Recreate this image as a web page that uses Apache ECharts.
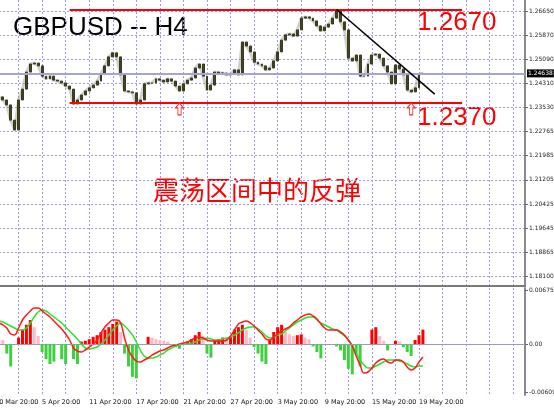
<!DOCTYPE html>
<html>
<head>
<meta charset="utf-8">
<title>GBPUSD H4</title>
<script src="https://cdn.jsdelivr.net/npm/echarts@6/dist/echarts.min.js"></script>
<style>
html, body { margin: 0; padding: 0; background: #fff; }
#main { width: 554px; height: 408px; }
</style>
</head>
<body>
<div id="main"></div>
<script type="text/javascript">
// one point = two H4 bars
var tickLabels = ['30 Mar 20:00', '5 Apr 20:00', '11 Apr 20:00', '17 Apr 20:00', '21 Apr 20:00',
    '27 Apr 20:00', '3 May 20:00', '9 May 20:00', '15 May 20:00', '19 May 20:00'];
var barCount = 136;

var closes = [
    1.2394, 1.2388, 1.2378, 1.2362, 1.2313, 1.2281, 1.2378, 1.2413, 1.2468, 1.2494,
    1.2497, 1.2488, 1.2455, 1.2446, 1.2455, 1.2442, 1.2439, 1.2433, 1.2423, 1.2413,
    1.2365, 1.2378, 1.2394, 1.2407, 1.2417, 1.2426, 1.2439, 1.2462, 1.2488, 1.2517,
    1.2530, 1.2517, 1.2459, 1.2407, 1.2404, 1.2401, 1.2365, 1.2378, 1.2430, 1.2433,
    1.2433, 1.2446, 1.2442, 1.2436, 1.2446, 1.2439, 1.2423, 1.2407, 1.2430, 1.2442,
    1.2449, 1.2481, 1.2494, 1.2455, 1.2410, 1.2426, 1.2468, 1.2465, 1.2465, 1.2459,
    1.2462, 1.2475, 1.2459, 1.2565, 1.2552, 1.2533, 1.2500, 1.2494, 1.2488, 1.2475,
    1.2481, 1.2504, 1.2533, 1.2571, 1.2588, 1.2591, 1.2584, 1.2604, 1.2642, 1.2646,
    1.2642, 1.2633, 1.2617, 1.2601, 1.2613, 1.2623, 1.2642, 1.2665, 1.2630, 1.2604,
    1.2513, 1.2504, 1.2523, 1.2455, 1.2455, 1.2494, 1.2523, 1.2526, 1.2513, 1.2488,
    1.2468, 1.2430, 1.2491, 1.2478, 1.2459, 1.2410, 1.2404, 1.2417, 1.2462, 1.2464
];

var macdRed = [
    0.00275, 0.00263, 0.00238, 0.0020, 0.00125, 0.00113, 0.0020, 0.0030, 0.00363, 0.00413,
    0.0045, 0.0045, 0.00413, 0.00375, 0.00338, 0.00288, 0.00238, 0.00188, 0.00125, 0.0005,
    -0.0005, -0.00088, -0.001, -0.00075, -0.00038, 0, 0.0005, 0.00138, 0.00213, 0.00263,
    0.003, 0.003, 0.00263, 0.00075, -0.00075, -0.00163, -0.00213, -0.00225, -0.002, -0.00175,
    -0.00138, -0.00113, -0.00088, -0.00075, -0.0005, -0.00025, -0.00013, 0, 0.00013, 0.00025,
    0.0005, 0.00075, 0.00088, 0.00075, 0.0005, 0.00038, 0.00038, 0.00038, 0.00038, 0.0005,
    0.001, 0.00175, 0.0025, 0.00275, 0.00288, 0.00263, 0.00225, 0.00175, 0.00125, 0.00063,
    0.0005, 0.00088, 0.00125, 0.00163, 0.00188, 0.00213, 0.00263, 0.003, 0.00338, 0.00363,
    0.00375, 0.0035, 0.00313, 0.0025, 0.002, 0.00175, 0.00175, 0.00175, 0.0015, 0.00113,
    0.0005, -0.00025, -0.0015, -0.00263, -0.00363, -0.0035, -0.003, -0.00238, -0.002, -0.00188,
    -0.00225, -0.00238, -0.002, -0.002, -0.00225, -0.00288, -0.00325, -0.003, -0.00225, -0.00163
];

var macdGreen = [
    0.003, 0.00288, 0.00275, 0.0025, 0.00225, 0.002, 0.00175, 0.00175, 0.002, 0.00263,
    0.00338, 0.004, 0.00425, 0.00413, 0.00375, 0.00338, 0.003, 0.00263, 0.00213, 0.00163,
    0.00113, 0.00063, 0, -0.0005, -0.00063, -0.0005, -0.00038, 0, 0.0005, 0.00113,
    0.00175, 0.00225, 0.00263, 0.00225, 0.00175, 0.00113, 0.00025, -0.00075, -0.0015, -0.00175,
    -0.00175, -0.00163, -0.00138, -0.00113, -0.00075, -0.0005, -0.00025, -0.00013, 0, 0,
    0.00013, 0.00025, 0.0005, 0.00063, 0.00075, 0.00063, 0.0005, 0.0005, 0.00063, 0.00075,
    0.00088, 0.00113, 0.00138, 0.00175, 0.002, 0.00213, 0.00213, 0.00188, 0.0015, 0.001,
    0.00075, 0.00088, 0.00113, 0.00125, 0.00163, 0.002, 0.00238, 0.00275, 0.003, 0.00325,
    0.00338, 0.00338, 0.003, 0.00263, 0.00238, 0.00213, 0.00188, 0.00175, 0.00138, 0.001,
    0.0005, -0.00025, -0.00113, -0.002, -0.00263, -0.003, -0.003, -0.00275, -0.0025, -0.00225,
    -0.002, -0.002, -0.002, -0.00213, -0.00225, -0.0025, -0.00275, -0.00288, -0.00275, -0.00275
];

var macdHist = [
    0.0007, 0.0006, 0.0005, -0.0012, -0.0028, -0.0001, 0.0008, 0.0018, 0.0024, 0.0030,
    0.0021, 0.0010, -0.0010, -0.0019, -0.0025, -0.0022, 0, -0.0019, -0.0025, 0,
    -0.0019, -0.0025, 0.0003, 0.0004, 0.0006, 0.0009, 0.0011, 0.0015, 0.0018, 0.0021,
    0.0025, 0.0028, 0.0015, -0.0012, -0.0028, -0.0041, -0.0043, 0, 0, 0.0009,
    0.0008, 0.0006, 0.0005, 0.0004, 0.0003, 0, -0.0004, -0.0006, 0, 0.0003,
    0.0006, 0.0011, 0.0015, 0.0010, -0.0012, -0.0017, 0.0004, 0.0006, 0.0008, 0.0006,
    0.0010, 0.0018, 0.0021, 0.0024, 0.0018, 0.0008, -0.0004, -0.0012, -0.0022, -0.0025,
    0.0005, 0.0015, 0.0021, 0.0024, 0.0015, 0.0012, 0.0010, 0.0011, 0.0012, 0.0008,
    0.0006, -0.0003, -0.0010, -0.0018, 0, 0, 0, -0.0003, -0.0008, -0.0020,
    -0.0031, -0.0038, -0.0012, -0.0028, 0, 0, 0.0018, 0.0021, 0.0010, 0.0004,
    -0.0008, 0, 0.0004, 0.0003, -0.0004, -0.0010, -0.0015, 0.0005, 0.0011, 0.0018
];

var priceTicks = [1.18100, 1.18865, 1.19645, 1.20425, 1.21205, 1.21985,
    1.22765, 1.23530, 1.24310, 1.25090, 1.25870, 1.26650];
var macdTicks = [0.006757, 0, -0.006092];
var lastPrice = 1.24638;
var levels = [1.2670, 1.2370];
var levelSpan = [19, 119];
var trendLine = [[87, 1.2670], [112, 1.2397]];
var arrows = [[47, 1.2349], [106, 1.2349]];

var categories = [];
for (var i = 0; i < barCount; i++) categories.push('b' + i);

var candles = closes.map(function (c, i) {
    var o = i > 0 ? closes[i - 1] : c;
    return [o, c, Math.min(o, c), Math.max(o, c)];
});

var gridColor = '#9c9cdc';
var xBase = {
    type: 'category',
    data: categories,
    boundaryGap: false,
    axisTick: { show: false },
    splitLine: {
        show: true,
        interval: function (idx) { return idx % 6 === 0; },
        lineStyle: { color: gridColor, type: [2, 2], width: 1 }
    }
};

var myChart = echarts.init(document.getElementById('main'));
var option = {
    animation: false,
    backgroundColor: '#fff',
    grid: [
        { left: -5, right: 29, top: 0, height: 286, containLabel: false, outerBoundsMode: 'none' },
        { left: -5, right: 29, top: 288, height: 107, containLabel: false, outerBoundsMode: 'none' }
    ],
    xAxis: [
        Object.assign({}, xBase, {
            gridIndex: 0,
            axisLine: { show: true, lineStyle: { color: '#7a7a7a', width: 2 } },
            axisLabel: { show: false }
        }),
        Object.assign({}, xBase, {
            gridIndex: 1,
            axisLine: { show: true, lineStyle: { color: '#9a9a9a', width: 1 } },
            axisLabel: {
                show: true,
                interval: function (idx) { return idx % 12 === 0; },
                formatter: function (v, idx) { return tickLabels[idx / 12] || ''; },
                align: 'left',
                margin: 4,
                fontSize: 6.5,
                color: '#111',
                fontFamily: 'DejaVu Sans'
            }
        })
    ],
    yAxis: [
        {
            gridIndex: 0, type: 'value', position: 'right',
            min: 1.17779, max: 1.27005,
            axisLine: { show: true, lineStyle: { color: '#8a8a8a', width: 2 } },
            axisTick: { show: true, length: 3, customValues: priceTicks, lineStyle: { color: '#666' } },
            axisLabel: {
                customValues: priceTicks,
                formatter: function (v) { return v.toFixed(5); },
                fontSize: 6, color: '#222', margin: 4, fontFamily: 'DejaVu Sans'
            },
            splitLine: { show: true, lineStyle: { color: gridColor, type: [2, 2], width: 1 } }
        },
        {
            gridIndex: 1, type: 'value', position: 'right',
            min: -0.006375, max: 0.007,
            axisLine: { show: true, lineStyle: { color: '#8a8a8a', width: 2 } },
            axisTick: { show: true, length: 3, customValues: macdTicks, lineStyle: { color: '#666' } },
            axisLabel: {
                customValues: macdTicks,
                formatter: function (v) { return v === 0 ? '0.00' : v.toFixed(6); },
                fontSize: 6, color: '#222', margin: 4, fontFamily: 'DejaVu Sans'
            },
            splitLine: { show: false }
        }
    ],
    series: [
        {
            name: 'shadow', type: 'line', xAxisIndex: 0, yAxisIndex: 0,
            data: closes, symbol: 'none', silent: true, z: 1,
            lineStyle: { color: 'rgba(150,150,150,0.45)', width: 3 }
        },
        {
            name: 'GBPUSD', type: 'candlestick', xAxisIndex: 0, yAxisIndex: 0,
            data: candles, barWidth: 2.4, z: 3,
            itemStyle: {
                color: '#434322', color0: '#434322',
                borderColor: '#3c3c1c', borderColor0: '#3c3c1c', borderWidth: 1
            }
        },
        {
            name: 'levels', type: 'line', xAxisIndex: 0, yAxisIndex: 0,
            data: [], z: 4,
            markLine: {
                symbol: 'none', silent: true, label: { show: false },
                data: [
                    [{ coord: [0, lastPrice], lineStyle: { color: '#a4a4d6', width: 2, type: 'solid' },
                       label: {
                           show: true, position: 'end', distance: 2,
                           formatter: function () { return lastPrice.toFixed(5); },
                           backgroundColor: '#000', color: '#fff', fontSize: 6,
                           padding: [1, 1], fontFamily: 'DejaVu Sans'
                       } },
                     { coord: [barCount - 1, lastPrice] }],
                    [{ coord: [levelSpan[0], levels[0]], lineStyle: { color: '#ff0000', width: 2, type: 'solid' } },
                     { coord: [levelSpan[1], levels[0]] }],
                    [{ coord: [levelSpan[0], levels[1]], lineStyle: { color: '#ff0000', width: 2, type: 'solid' } },
                     { coord: [levelSpan[1], levels[1]] }],
                    [{ coord: trendLine[0], lineStyle: { color: '#000', width: 1.5, type: 'solid' } },
                     { coord: trendLine[1] }]
                ]
            }
        },
        {
            name: 'arrows', type: 'scatter', xAxisIndex: 0, yAxisIndex: 0,
            data: arrows, z: 5,
            symbol: 'path://M5,0 L10,5 L7,5 L7,12 L3,12 L3,5 L0,5 Z',
            symbolSize: [8, 12],
            itemStyle: { color: '#fff', borderColor: '#ff2a2a', borderWidth: 1, opacity: 1 }
        },
        {
            name: 'hist', type: 'bar', xAxisIndex: 1, yAxisIndex: 1,
            data: macdHist, barWidth: 3, z: 2,
            itemStyle: {
                color: function (p) {
                    var v = p.value, i = p.dataIndex;
                    if (v < 0) return '#3fcf3f';
                    return (i > 0 && v >= macdHist[i - 1]) ? '#ff0000' : '#ffb8c4';
                }
            },
            markLine: {
                symbol: 'none', silent: true, label: { show: false },
                lineStyle: { color: gridColor, type: [2, 2], width: 1 },
                data: [{ yAxis: 0 }]
            }
        },
        {
            name: 'green', type: 'line', xAxisIndex: 1, yAxisIndex: 1,
            data: macdGreen, symbol: 'none', smooth: 0.4, z: 3,
            lineStyle: { color: '#2ee02e', width: 1.5 }
        },
        {
            name: 'red', type: 'line', xAxisIndex: 1, yAxisIndex: 1,
            data: macdRed, symbol: 'none', smooth: 0.4, z: 4,
            lineStyle: { color: '#ff1a1a', width: 1.5 }
        }
    ],
    graphic: [
        { type: 'text', style: { text: 'GBPUSD -- H4', x: 13, y: 27.5, verticalAlign: 'middle',
            font: '26px "Liberation Sans"', fill: '#000' } },
        { type: 'text', style: { text: '1.2670', x: 417, y: 22.5, verticalAlign: 'middle',
            font: '26px "Liberation Sans"', fill: '#ff0000' } },
        { type: 'text', style: { text: '1.2370', x: 417, y: 117.5, verticalAlign: 'middle',
            font: '26px "Liberation Sans"', fill: '#ff0000' } },
        { type: 'text', style: { text: '震荡区间中的反弹', x: 153, y: 190.5, verticalAlign: 'middle',
            font: '26px "Noto Sans CJK SC"', fill: '#ff0000' } }
    ]
};
myChart.setOption(option);
</script>
</body>
</html>
